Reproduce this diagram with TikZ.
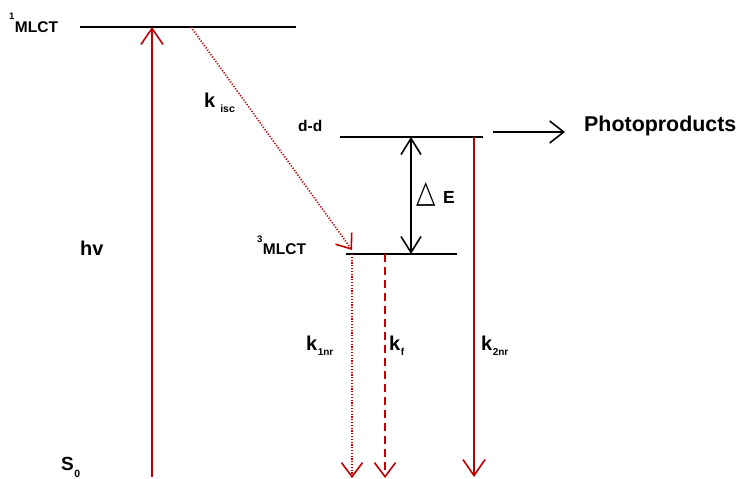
\documentclass[tikz,border=0pt]{standalone}
\usepackage{fontspec}
\setmainfont{Liberation Sans}
\newfontfamily\dejavu{DejaVu Sans}
\usetikzlibrary{arrows.meta}
\definecolor{dred}{HTML}{C00000}
\newcommand{\fsz}[1]{\fontsize{#1}{#1}\selectfont}
\begin{document}
\begin{tikzpicture}[x=1pt,y=-1pt,
  level/.style={line width=1.6pt,black},
  smalltip/.style={-{Straight Barb[length=14pt,width=21pt,line width=1.6pt]}},
  redarr/.style={dred,line width=1.6pt},
  dotline/.style={line width=1.6pt,dash pattern=on 1.2pt off 1.6pt},
  lbl/.style={font=\bfseries\fsz{20},inner sep=0pt},
  slbl/.style={font=\bfseries\fsz{15.5},inner sep=0pt}]
\useasboundingbox (0,0) rectangle (737,479);
% levels
\coordinate (s1a) at (80,27); \coordinate (s1b) at (296,27);
\coordinate (dda) at (340,137); \coordinate (ddb) at (483,137);
\coordinate (t1a) at (346,254); \coordinate (t1b) at (457,254);
\draw[level] (s1a) -- (s1b);
\draw[level] (dda) -- (ddb);
\draw[level] (t1a) -- (t1b);
% coordinates for arrows
\coordinate (hvb) at (152,477); \coordinate (hvt) at (152,27);
\coordinate (isa) at (191,27); \coordinate (isb) at (352,250);
\coordinate (k1a) at (352,254); \coordinate (k1b) at (352,478);
\coordinate (kfa) at (385,254); \coordinate (kfb) at (385,478);
\coordinate (k2a) at (474,137); \coordinate (k2b) at (474,477);
\coordinate (dea) at (411,137); \coordinate (deb) at (411,254);
\coordinate (ppa) at (493,132); \coordinate (ppb) at (565,132);
% arrows
\draw[redarr,-{Straight Barb[length=16pt,width=22pt,line width=1.6pt]}] (hvb) -- (hvt);
\draw[redarr,dotline,-{Straight Barb[length=13pt,width=20pt,line width=1.6pt]}] (isa) -- (isb);
\draw[redarr,dotline,smalltip] (k1a) -- (k1b);
\draw[redarr,dash pattern=on 8pt off 5pt,smalltip] (kfa) -- (kfb);
\draw[redarr,-{Straight Barb[length=16pt,width=22pt,line width=1.6pt]}] (k2a) -- (k2b);
\draw[line width=1.6pt,{Straight Barb[length=16pt,width=20pt,line width=1.6pt]}-{Straight Barb[length=16pt,width=20pt,line width=1.6pt]}] (dea) -- (deb);
\draw[line width=1.6pt,-{Straight Barb[length=14pt,width=22pt,line width=1.6pt]}] (ppa) -- (ppb);
% labels
\node[slbl,anchor=base west] (l1) at (9,32) {\raisebox{13pt}{\fsz{9.5}1}\hspace{0.5pt}MLCT};
\node[lbl,anchor=base west] (lisc) at (204,107) {k\hspace{5pt}\raisebox{-5.5pt}{\fsz{10.5}isc}};
\node[slbl,anchor=base west] (ldd) at (298,131) {d-d};
\node[slbl,anchor=base west] (l3) at (257,254) {\raisebox{12pt}{\fsz{9.5}3}\hspace{0.5pt}MLCT};
\node[lbl,anchor=base west] (lhv) at (80,255) {hv};
\node[lbl,anchor=base west] (lk1) at (306,350) {k\hspace{0.5pt}\raisebox{-5pt}{\fsz{10}1nr}};
\node[lbl,anchor=base west] (lkf) at (389,350) {k\hspace{0.5pt}\raisebox{-5pt}{\fsz{10}f}};
\node[lbl,anchor=base west] (lk2) at (481,350) {k\hspace{0.5pt}\raisebox{-5pt}{\fsz{10}2nr}};
\node[lbl,anchor=base west,font=\bfseries\fsz{19}] (ls0) at (61,470) {S\hspace{0.5pt}\raisebox{-7pt}{\fsz{10.5}0}};
\node[inner sep=0pt,anchor=base west] (ltri) at (416,202) {\dejavu\fsz{24}\scalebox{1.05}[1.3]{△}};
\node[lbl,anchor=base west,font=\bfseries\fsz{17.5}] (lE) at (443,203) {E};
\node[lbl,anchor=base west,font=\bfseries\fsz{21.4}] (lpp) at (584,131) {Photoproducts};
\end{tikzpicture}
\end{document}
